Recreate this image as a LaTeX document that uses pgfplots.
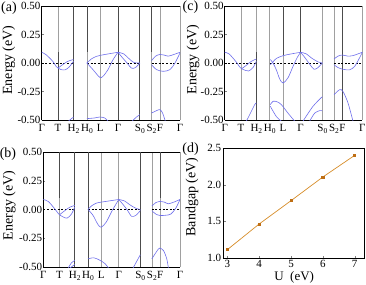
\documentclass[border=0pt]{standalone}
\usepackage{fontspec}
\setmainfont{Liberation Serif}
\usepackage{pgfplots}
\pgfplotsset{compat=1.18}
\definecolor{band}{RGB}{110,110,235}
\definecolor{vgray}{RGB}{160,160,160}
\definecolor{gapc}{RGB}{214,140,40}
\definecolor{gapm}{RGB}{190,110,20}
\newcommand{\tfont}{\fontsize{11}{12}\selectfont}
\newcommand{\lfont}{\fontsize{14}{16}\selectfont}
\newcommand{\sub}[1]{\raisebox{-0.4ex}{\fontsize{7.5}{8}\selectfont #1}}
\pgfplotsset{
  bandaxis/.style={
    scale only axis, anchor=south west,
    xmin=0, xmax=413, ymin=-0.5, ymax=0.5,
    axis x line=box, axis y line*=left,
    x axis line style={-}, y axis line style={-},
    axis line style={black, line width=0.8pt},
    xtick={0,49,95,135,175,228,293,328,353,413},
    xticklabels={Γ,T,H\sub{2},H\sub{0},L,Γ,S\sub{0},S\sub{2},F,Γ},
    major x tick style={draw=none},
    xmajorgrids, grid style={vgray, line width=0.7pt},
    ytick={-0.5,-0.25,0,0.25,0.5},
    yticklabels={-0.50,-0.25,0.00,0.25,0.50},
    tick align=inside, ytick pos=left, major tick length=2pt,
    xticklabel style={font=\tfont, anchor=base, inner sep=0pt, yshift=-11.5pt},
    yticklabel style={font=\tfont, anchor=east, inner sep=0pt, xshift=-1pt},
    ylabel={Energy (eV)}, ylabel style={font=\lfont, anchor=center},
  },
  bd/.style={band, line width=0.6pt, smooth},
  vd/.style={black!70, line width=0.65pt},
  zl/.style={black, line width=0.6pt, dash pattern=on 2pt off 1.6pt},
}
\begin{document}
\begin{tikzpicture}
\path[use as bounding box] (0,0) rectangle (366pt,284pt);
% ---------------- (a)
\begin{axis}[bandaxis, at={(41.7pt,164pt)}, width=138.3pt, height=114pt,
  ylabel style={at={(axis description cs:-0.2386,0.526)}}]
\addplot[vd] coordinates {(49,-0.5) (49,0.1)};
\addplot[vd] coordinates {(95,-0.5) (95,0.5)};
\addplot[vd] coordinates {(135,0.1) (135,0.5)};
\addplot[vd] coordinates {(228,-0.5) (228,0.5)};
\addplot[vd] coordinates {(293,-0.5) (293,0.5)};
\addplot[vd] coordinates {(328,0.1) (328,0.5)};
\addplot[zl] coordinates {(0,0) (95,0)};
\addplot[zl] coordinates {(135,0) (293,0)};
\addplot[zl] coordinates {(328,0) (413,0)};
\addplot[bd] coordinates {(0,0.094) (13,0.073) (33,0.015) (43,-0.03) (49,-0.044)};
\addplot[bd] coordinates {(49,-0.044) (60,-0.02) (75,0.01) (88,0.025) (95,0.03)};
\addplot[bd] coordinates {(49,-0.044) (58,-0.058) (70,-0.06) (82,-0.035) (95,0.015)};
\addplot[bd] coordinates {(135,0) (148,0.035) (163,0.058) (175,0.067) (203,0.082) (228,0.094)};
\addplot[bd] coordinates {(135,0) (153,-0.058) (173,-0.125) (183,-0.117) (198,-0.058) (213,0.029) (228,0.094)};
\addplot[bd] coordinates {(228,0.094) (245,0.08) (260,0.04) (275,0.005) (293,0)};
\addplot[bd] coordinates {(228,0.094) (240,0.05) (255,0.0) (268,-0.045) (280,-0.04) (293,0.0)};
\addplot[bd] coordinates {(328,0.02) (340,0.06) (353,0.075) (365,0.07) (378,0.06) (395,0.075) (413,0.094)};
\addplot[bd] coordinates {(328,-0.015) (343,-0.058) (363,-0.073) (383,-0.058) (398,0.0) (413,0.088)};
\addplot[bd] coordinates {(80,-0.51) (88,-0.49) (95,-0.475)};
\addplot[bd] coordinates {(135,-0.488) (158,-0.482) (173,-0.474) (188,-0.482) (198,-0.51)};
\addplot[bd] coordinates {(270,-0.51) (283,-0.474) (293,-0.453)};
\addplot[bd] coordinates {(328,-0.439) (343,-0.418) (353,-0.409) (361,-0.439) (369,-0.51)};
\end{axis}
% ---------------- (c)
\begin{axis}[bandaxis, at={(224.7pt,164pt)}, width=137.6pt, height=114pt,
  ylabel style={at={(axis description cs:-0.23,0.53)}}]
\addplot[vd] coordinates {(95,-0.5) (95,0.1)};
\addplot[vd] coordinates {(175,0.07) (175,0.5)};
\addplot[vd] coordinates {(228,0.09) (228,0.5)};
\addplot[vd] coordinates {(353,-0.5) (353,0.5)};
\addplot[zl] coordinates {(0,0) (95,0)};
\addplot[zl] coordinates {(135,0) (293,0)};
\addplot[zl] coordinates {(328,0) (413,0)};
\addplot[bd] coordinates {(0,0.094) (13,0.08) (33,0.015) (45,-0.035) (51,-0.05)};
\addplot[bd] coordinates {(51,-0.05) (65,-0.02) (80,0.015) (95,0.035)};
\addplot[bd] coordinates {(51,-0.05) (62,-0.065) (72,-0.07) (85,-0.04) (95,0.015)};
\addplot[bd] coordinates {(137,-0.015) (145,0.01) (155,0.04) (175,0.064) (200,0.08) (228,0.094)};
\addplot[bd] coordinates {(137,0.03) (145,0.0) (155,-0.06) (165,-0.14) (175,-0.175) (190,-0.13) (205,-0.03) (218,0.05) (228,0.094)};
\addplot[bd] coordinates {(228,0.094) (245,0.08) (260,0.045) (280,0.01) (293,0)};
\addplot[bd] coordinates {(228,0.094) (240,0.05) (255,-0.01) (268,-0.055) (280,-0.04) (293,0)};
\addplot[bd] coordinates {(328,0.035) (340,0.06) (353,0.07) (370,0.06) (385,0.065) (400,0.08) (413,0.094)};
\addplot[bd] coordinates {(328,-0.015) (340,-0.04) (355,-0.055) (375,-0.06) (390,-0.03) (402,0.03) (413,0.094)};
\addplot[bd] coordinates {(65,-0.51) (80,-0.424) (90,-0.365) (95,-0.35)};
\addplot[bd] coordinates {(137,-0.365) (145,-0.336) (157,-0.34) (170,-0.365) (190,-0.44) (210,-0.51)};
\addplot[bd] coordinates {(137,-0.38) (155,-0.47) (170,-0.51)};
\addplot[bd] coordinates {(235,-0.51) (265,-0.38) (293,-0.295)};
\addplot[bd] coordinates {(255,-0.51) (270,-0.44) (285,-0.418) (293,-0.42)};
\addplot[bd] coordinates {(328,-0.278) (345,-0.234) (355,-0.25) (370,-0.35) (385,-0.51)};
\end{axis}
% ---------------- (b)
\begin{axis}[bandaxis, at={(43.3pt,17pt)}, width=136.7pt, height=115pt,
  ylabel style={at={(axis description cs:-0.249,0.536)}}]
\addplot[vd] coordinates {(49,0.1) (49,0.5)};
\addplot[vd] coordinates {(95,-0.5) (95,0.5)};
\addplot[vd] coordinates {(135,-0.5) (135,0.5)};
\addplot[vd] coordinates {(293,-0.5) (293,0.5)};
\addplot[vd] coordinates {(353,0.1) (353,0.5)};
\addplot[zl] coordinates {(0,0) (95,0)};
\addplot[zl] coordinates {(135,0) (293,0)};
\addplot[zl] coordinates {(328,0) (413,0)};
\addplot[bd] coordinates {(0,0.087) (15,0.07) (32,0.015) (44,-0.03) (49,-0.046)};
\addplot[bd] coordinates {(49,-0.046) (65,-0.01) (80,0.02) (95,0.035)};
\addplot[bd] coordinates {(49,-0.046) (60,-0.065) (72,-0.075) (85,-0.04) (95,0.02)};
\addplot[bd] coordinates {(135,0) (145,0.03) (160,0.055) (175,0.064) (200,0.075) (228,0.087)};
\addplot[bd] coordinates {(135,0) (150,-0.05) (165,-0.13) (175,-0.154) (190,-0.11) (208,-0.01) (228,0.087)};
\addplot[bd] coordinates {(228,0.087) (245,0.075) (262,0.04) (280,0.01) (293,0)};
\addplot[bd] coordinates {(228,0.087) (242,0.04) (255,-0.01) (267,-0.06) (280,-0.05) (293,-0.01)};
\addplot[bd] coordinates {(328,0.03) (340,0.06) (353,0.07) (365,0.065) (378,0.05) (395,0.065) (413,0.087)};
\addplot[bd] coordinates {(328,-0.01) (340,-0.04) (353,-0.052) (370,-0.05) (385,-0.04) (400,0.01) (413,0.087)};
\addplot[bd] coordinates {(75,-0.51) (85,-0.464) (95,-0.443)};
\addplot[bd] coordinates {(80,-0.51) (95,-0.478)};
\addplot[bd] coordinates {(135,-0.429) (153,-0.42) (172,-0.443) (187,-0.472) (197,-0.51)};
\addplot[bd] coordinates {(271,-0.51) (282,-0.452) (293,-0.394)};
\addplot[bd] coordinates {(328,-0.429) (341,-0.371) (351,-0.336) (363,-0.357) (373,-0.429) (378,-0.51)};
\end{axis}
% ---------------- (d)
\begin{axis}[at={(223.7pt,26pt)}, anchor=south west, scale only axis,
  width=141pt, height=110pt,
  xmin=2.885, xmax=7.314, ymin=1, ymax=2.5,
  xtick={3,4,5,6,7}, ytick={1,1.5,2,2.5},
  axis line style={black, line width=0.8pt},
  tick align=inside, xtick pos=bottom, ytick pos=left, major tick length=2pt,
  xticklabel style={font=\tfont, anchor=north, inner sep=0pt, yshift=-2.5pt,
    /pgf/number format/assume math mode=true},
  yticklabel style={font=\tfont, anchor=east, inner sep=0pt, xshift=-2.4pt,
    /pgf/number format/assume math mode=true,
    /pgf/number format/fixed, /pgf/number format/fixed zerofill,
    /pgf/number format/precision=1},
  xlabel={U\ \ (eV)}, ylabel={Bandgap (eV)},
  xlabel style={font=\fontsize{13}{14}\selectfont, anchor=center, inner sep=0pt, at={(axis description cs:0.5,-0.172)}},
  ylabel style={font=\lfont, anchor=center, at={(axis description cs:-0.2248,0.555)}},
]
\addplot[gapc, line width=0.7pt, mark=square*, mark size=1.1pt,
  mark options={fill=gapm, draw=gapm}]
  coordinates {(3,1.114) (4,1.464) (5,1.782) (6,2.105) (7,2.4)};
\end{axis}
\node[font=\lfont, inner sep=0pt] at (9pt,276pt) {(a)};
\node[font=\lfont, inner sep=0pt] at (190.5pt,276.5pt) {(c)};
\node[font=\lfont, inner sep=0pt] at (8pt,130.3pt) {(b)};
\node[font=\lfont, inner sep=0pt] at (190.5pt,134.5pt) {(d)};
\end{tikzpicture}
\end{document}
